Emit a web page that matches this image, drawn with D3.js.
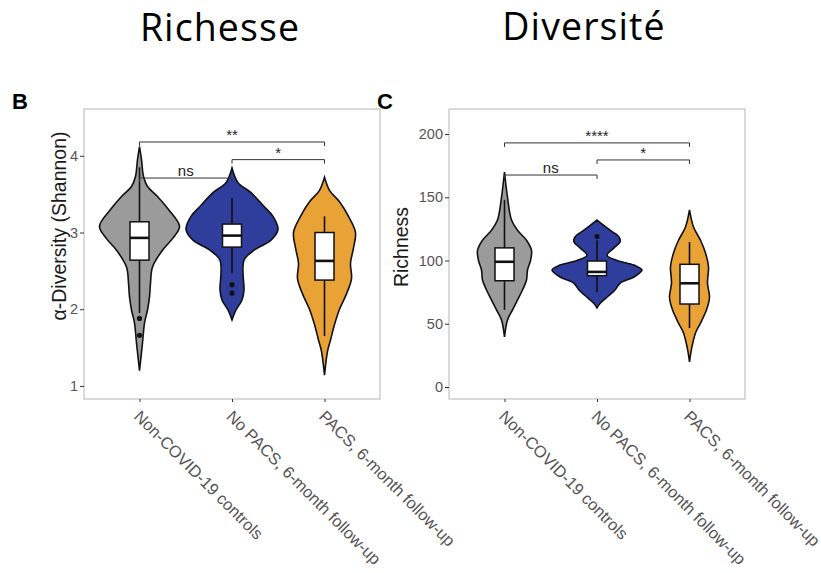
<!DOCTYPE html>
<html>
<head>
<meta charset="utf-8">
<script src="https://cdn.jsdelivr.net/npm/d3@7"></script>
<style>
  body { margin: 0; background: #fff; }
  svg { display: block; }
  text { font-family: "Liberation Sans", Arial, sans-serif; }
</style>
</head>
<body>
<svg id="chart" width="821" height="573"></svg>
<script>
// groups and colours
var groups = ["Non-COVID-19 controls", "No PACS, 6-month follow-up", "PACS, 6-month follow-up"];
var fills = ["#9b9b9b", "#2f3d9c", "#e9a236"];

// panel B: Shannon diversity. violin profiles: [value, density]
var shannonViolins = [
    [[4.12,0],[3.95,2],[3.73,4],[3.60,8],[3.47,18],[3.30,29],[3.08,40],[2.92,33],[2.77,23],[2.55,13],[2.34,11],[2.16,10],[1.99,8],[1.82,5],[1.56,3],[1.20,0]],
    [[3.84,0],[3.65,6],[3.52,19],[3.34,32],[3.21,41],[3.04,46],[2.90,39],[2.77,22],[2.64,12],[2.47,11],[2.25,12],[2.12,10],[1.99,4],[1.86,0]],
    [[3.72,0],[3.55,5],[3.40,15],[3.21,24],[3.00,31],[2.80,29],[2.60,26],[2.40,27],[2.20,22],[2.00,15],[1.80,10],[1.60,6],[1.45,3],[1.14,0]]
];
// boxplot stats: [whisker low, q1, median, q3, whisker high]
var shannonBoxes = [
    [1.95, 2.64, 2.93, 3.14, 3.85],
    [2.47, 2.81, 2.96, 3.11, 3.45],
    [1.65, 2.38, 2.63, 3.00, 3.21]
];
var shannonOutliers = [[1.88, 1.66], [2.32, 2.21], []];
var shannonTicks = [1, 2, 3, 4];
var shannonSig = [
    {from: 0, to: 2, y: 4.18, label: "**"},
    {from: 1, to: 2, y: 3.95, label: "*"},
    {from: 0, to: 1, y: 3.71, label: "ns"}
];

// panel C: richness
var richViolins = [
    [[170,0],[150,3],[132,7],[124,13],[116,22],[108,27],[100,26],[92.5,23],[84.6,22],[76.7,18],[68.8,13],[60.9,8],[53,3],[39.5,0]],
    [[132,0],[124,13],[118.6,22],[114.6,23],[110,17],[104,10],[100,20],[96.4,37],[92.5,45],[87,37],[82,23],[76.7,18],[71,10],[66,3],[62.5,0]],
    [[140,0],[126.5,4],[116,11],[106,16],[95,19],[82,18],[71,20],[61,17],[50.5,11],[42.7,6],[30,2],[19.8,0]]
];
var richBoxes = [
    [61, 84, 99, 110, 148],
    [75, 88, 91, 99.6, 116],
    [46.6, 65.6, 82, 97, 114.6]
];
var richOutliers = [[], [119], []];
var richTicks = [0, 50, 100, 150, 200];
var richSig = [
    {from: 0, to: 2, y: 193, label: "****"},
    {from: 1, to: 2, y: 179.5, label: "*"},
    {from: 0, to: 1, y: 167.6, label: "ns"}
];

var titles = [{text: "Richesse", x: 220, y: 41}, {text: "Diversité", x: 584, y: 40}];

var svg = d3.select("#chart");

svg.selectAll("text.title")
    .data(titles)
  .enter().append("text")
    .attr("class", "title")
    .attr("x", function(d) { return d.x; })
    .attr("y", function(d) { return d.y; })
    .attr("text-anchor", "middle")
    .style("font-family", "'Open Sans', 'Noto Sans', sans-serif")
    .style("font-size", "37.5px")
    .style("letter-spacing", "1.1px")
    .text(function(d) { return d.text; });

function drawPanel(opt) {
    var left = opt.left, top = 109, w = 296, h = 290;
    var g = svg.append("g");

    var x = d3.scalePoint().domain(groups).range([left, left + w]).padding(0.6);
    var y = d3.scaleLinear().domain(opt.domain).range([top + h, top]);
    var dens = d3.scaleLinear().domain([0, 46]).range([0, 46]);

    // panel letter
    g.append("text")
        .attr("x", left - 72)
        .attr("y", 109)
        .style("font-weight", "bold")
        .style("font-size", "22px")
        .text(opt.letter);

    g.append("rect")
        .attr("x", left).attr("y", top)
        .attr("width", w).attr("height", h)
        .attr("fill", "#fff")
        .attr("stroke", "#b5b5b5")
        .attr("stroke-width", 1);

    // y axis
    var ya = g.append("g")
        .attr("transform", "translate(" + left + ",0)")
        .call(d3.axisLeft(y).tickValues(opt.ticks).tickFormat(d3.format("d")).tickSize(4).tickPadding(2));
    ya.select(".domain").remove();
    ya.selectAll("line").attr("stroke", "#333");
    ya.selectAll("text").attr("fill", "#555").style("font-size", "14.5px");

    g.append("text")
        .attr("transform", "translate(" + opt.titleX + "," + opt.titleY + ") rotate(-90)")
        .attr("text-anchor", "middle")
        .attr("fill", "#1a1a1a")
        .style("font-size", "19.5px")
        .text(opt.yTitle);

    // x axis
    var xa = g.append("g")
        .attr("transform", "translate(0," + (top + h) + ")")
        .call(d3.axisBottom(x).tickSize(3).tickFormat(""));
    xa.select(".domain").remove();
    xa.selectAll("line").attr("stroke", "#333");

    g.selectAll("text.xlab")
        .data(groups)
      .enter().append("text")
        .attr("class", "xlab")
        .attr("transform", function(d) { return "translate(" + (x(d) + 2) + "," + (top + h + 10) + ") rotate(45)"; })
        .attr("dy", "0.72em")
        .attr("fill", "#555")
        .style("font-size", "16.5px")
        .text(function(d) { return d; });

    // violins
    var area = d3.area()
        .y(function(d) { return y(d[0]); })
        .curve(d3.curveCatmullRom.alpha(0.5));

    opt.violins.forEach(function(v, i) {
        var cx = x(groups[i]);
        area.x0(function(d) { return cx - dens(d[1]); })
            .x1(function(d) { return cx + dens(d[1]); });
        g.append("path")
            .attr("d", area(v))
            .attr("fill", fills[i])
            .attr("stroke", "#111")
            .attr("stroke-width", 1.6);
    });

    // boxplots
    var bw = 19;
    opt.boxes.forEach(function(b, i) {
        var cx = x(groups[i]);
        g.append("line")
            .attr("x1", cx).attr("x2", cx)
            .attr("y1", y(b[0])).attr("y2", y(b[4]))
            .attr("stroke", "#111").attr("stroke-width", 1.6);
        g.append("rect")
            .attr("x", cx - bw / 2).attr("width", bw)
            .attr("y", y(b[3])).attr("height", y(b[1]) - y(b[3]))
            .attr("fill", "#fff").attr("stroke", "#111").attr("stroke-width", 1.5);
        g.append("line")
            .attr("x1", cx - bw / 2).attr("x2", cx + bw / 2)
            .attr("y1", y(b[2])).attr("y2", y(b[2]))
            .attr("stroke", "#111").attr("stroke-width", 2.6);
        g.selectAll(null)
            .data(opt.outliers[i])
          .enter().append("circle")
            .attr("cx", cx).attr("cy", function(d) { return y(d); })
            .attr("r", 2.6).attr("fill", "#111");
    });

    // significance brackets
    opt.sig.forEach(function(s) {
        var x1 = x(groups[s.from]), x2 = x(groups[s.to]), yy = y(s.y);
        g.append("path")
            .attr("d", "M" + x1 + "," + (yy + 4) + "V" + yy + "H" + x2 + "V" + (yy + 4))
            .attr("fill", "none").attr("stroke", "#333").attr("stroke-width", 1);
        g.append("text")
            .attr("x", (x1 + x2) / 2).attr("y", yy - 2)
            .attr("text-anchor", "middle")
            .attr("fill", "#222")
            .style("font-size", "15px")
            .text(s.label);
    });
}

drawPanel({
    letter: "B", left: 84, domain: [0.83, 4.61], ticks: shannonTicks,
    violins: shannonViolins, boxes: shannonBoxes, outliers: shannonOutliers, sig: shannonSig,
    yTitle: "α-Diversity (Shannon)", titleX: 66, titleY: 226
});

drawPanel({
    letter: "C", left: 449, domain: [-9.5, 219.8], ticks: richTicks,
    violins: richViolins, boxes: richBoxes, outliers: richOutliers, sig: richSig,
    yTitle: "Richness", titleX: 408, titleY: 247
});
</script>
</body>
</html>
